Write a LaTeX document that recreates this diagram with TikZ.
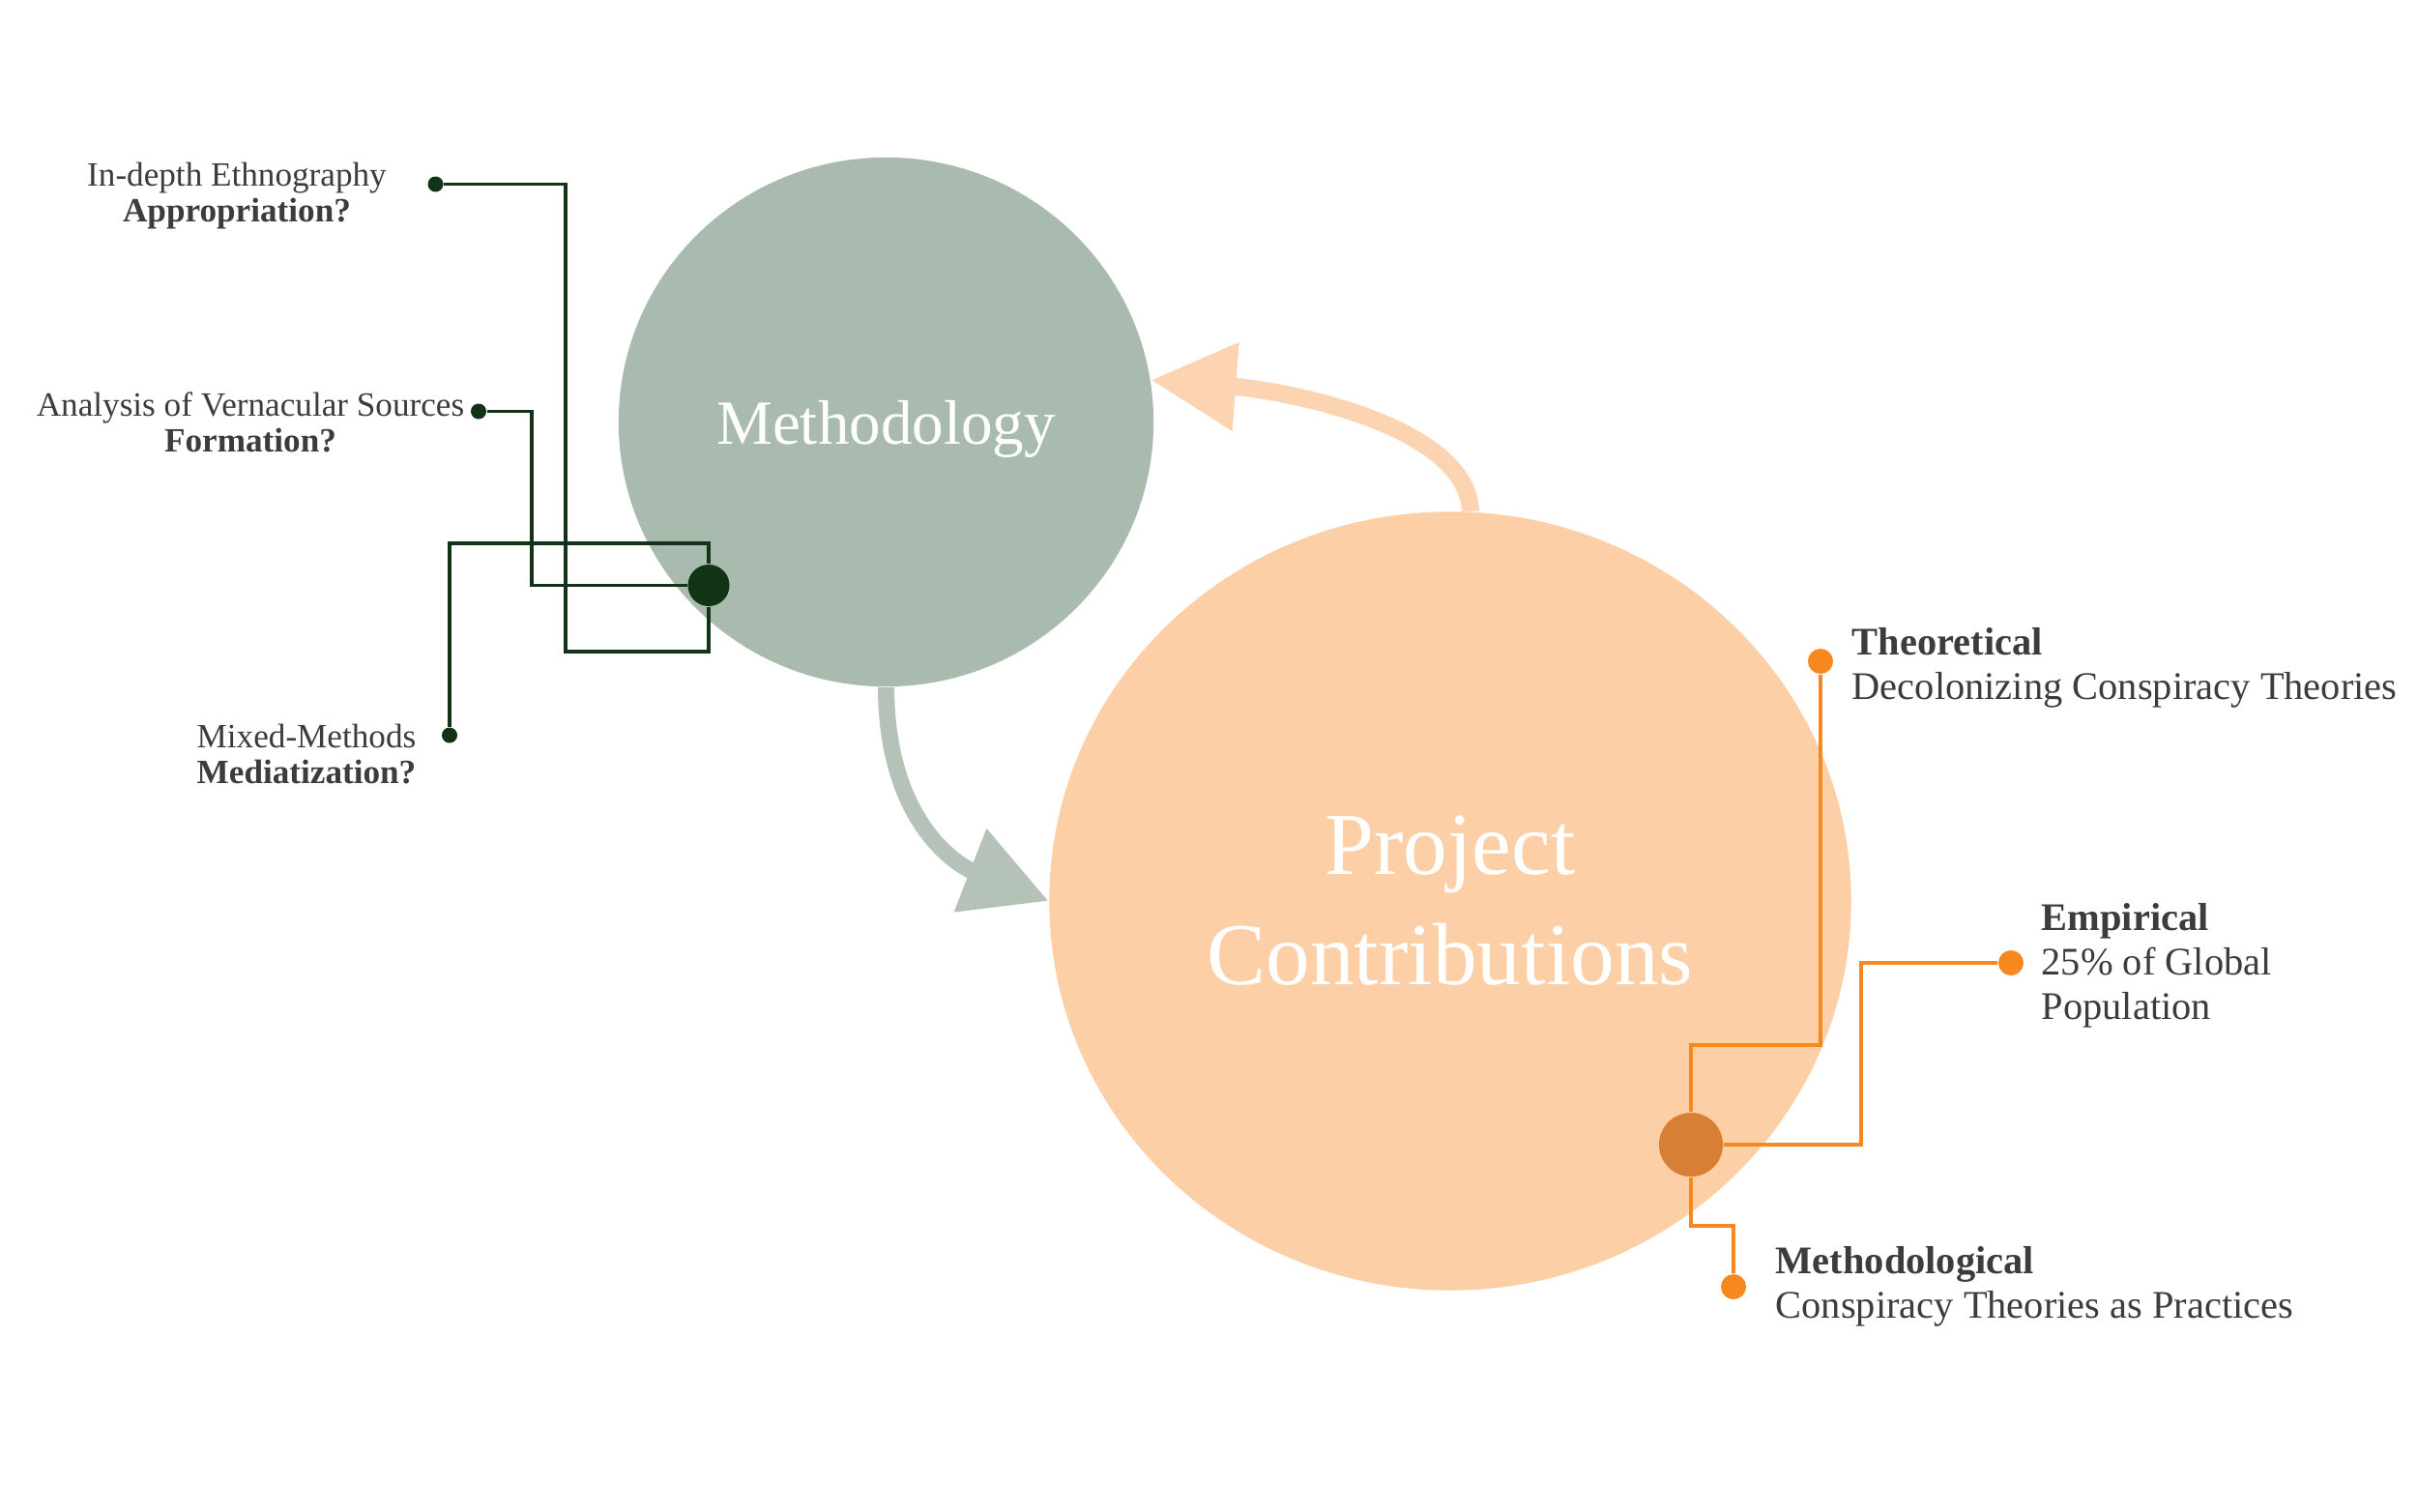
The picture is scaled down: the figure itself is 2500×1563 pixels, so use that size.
\documentclass[tikz,border=0pt]{standalone}
\usepackage{fontspec}
\setmainfont{Liberation Serif}
\usetikzlibrary{arrows.meta,shapes.geometric}
\definecolor{methc}{HTML}{A9BBAE}
\definecolor{projc}{HTML}{FCCFA6}
\definecolor{garrowc}{HTML}{B4C2B7}
\definecolor{oarrowc}{HTML}{FDD4B2}
\definecolor{dgreen}{HTML}{113416}
\definecolor{oline}{HTML}{F7881F}
\definecolor{ohub}{HTML}{D67F35}
\definecolor{txt}{HTML}{3C3C3C}
\begin{document}
\begin{tikzpicture}[x=0.01cm,y=-0.01cm,
  bigcirc/.style={ellipse, inner sep=0pt, text=white},
  garrow/.style={draw=garrowc, line width=0.17cm, -{Triangle[length=0.87cm,width=0.88cm]}},
  oarrow/.style={draw=oarrowc, line width=0.18cm, -{Triangle[length=0.88cm,width=0.87cm]}},
  gline/.style={draw=dgreen, line width=0.95pt},
  oline/.style={draw=oline, line width=0.95pt},
  gdot/.style={circle, fill=dgreen, inner sep=0pt, minimum size=0.16cm},
  ghub/.style={circle, fill=dgreen, inner sep=0pt, minimum size=0.43cm},
  odot/.style={circle, fill=oline, inner sep=0pt, minimum size=0.26cm},
  ohubst/.style={circle, fill=ohub, inner sep=0pt, minimum size=0.66cm},
  ltext/.style={text=txt, align=center, inner sep=0pt, font=\fontsize{10}{10.5}\selectfont},
  rtext/.style={text=txt, align=left, inner sep=0pt, font=\fontsize{11.5}{13}\selectfont}
]
\useasboundingbox (0,0) rectangle (2500,1563);
\fill[white] (0,0) rectangle (2500,1563);

% main circles
\node[bigcirc, fill=methc, minimum width=5.53cm, minimum height=5.47cm,
      text depth=0pt, font=\fontsize{18.5}{22}\selectfont] (meth) at (916.5,436.5) {Methodology};
\node[bigcirc, fill=projc, minimum width=8.29cm, minimum height=8.05cm, align=center,
      font=\fontsize{26}{32.4}\selectfont] (proj) at (1500,932) {Project\\Contributions};

% cycle arrows
\draw[garrow] (meth.south) .. controls (917,850) and (990,895) .. (proj.west);
\draw[oarrow] (proj.87.5) .. controls (1518,440) and (1330,404) .. (meth.9);

% methodology connectors
\node[ghub] (hubG) at (733,605.5) {};
\node[gdot] (dA) at (450.5,190.5) {};
\node[gdot] (dB) at (495,425.5) {};
\node[gdot] (dC) at (465,760.5) {};
\draw[gline] (dA) -| (585,674) -| (hubG);
\draw[gline] (dB) -| (550,605.5) -- (hubG);
\draw[gline] (dC) |- (733,562) -- (hubG);

\node[ltext, anchor=base] (lA) at (245,229) {In-depth Ethnography\\\textbf{Appropriation?}};
\node[ltext, anchor=base] (lB) at (259,467) {Analysis of Vernacular Sources\\\textbf{Formation?}};
\node[ltext, anchor=base] (lC) at (317,810) {Mixed-Methods\\\textbf{Mediatization?}};

% contribution connectors
\node[ohubst] (hubO) at (1749,1184) {};
\node[odot] (dT) at (1883,684) {};
\node[odot] (dE) at (2080,996) {};
\node[odot] (dM) at (1793,1331) {};
\draw[oline] (dT) |- (1749,1081) -- (hubO);
\draw[oline] (dE) -| (1925,1184) -- (hubO);
\draw[oline] (hubO) |- (1793,1268) -- (dM);

\node[rtext, anchor=base west] (rT) at (1915,723) {\textbf{Theoretical}\\Decolonizing Conspiracy Theories};
\node[rtext, anchor=base west] (rE) at (2111,1054) {\textbf{Empirical}\\25\% of Global\\Population};
\node[rtext, anchor=base west] (rM) at (1836,1363) {\textbf{Methodological}\\Conspiracy Theories as Practices};
\end{tikzpicture}
\end{document}
